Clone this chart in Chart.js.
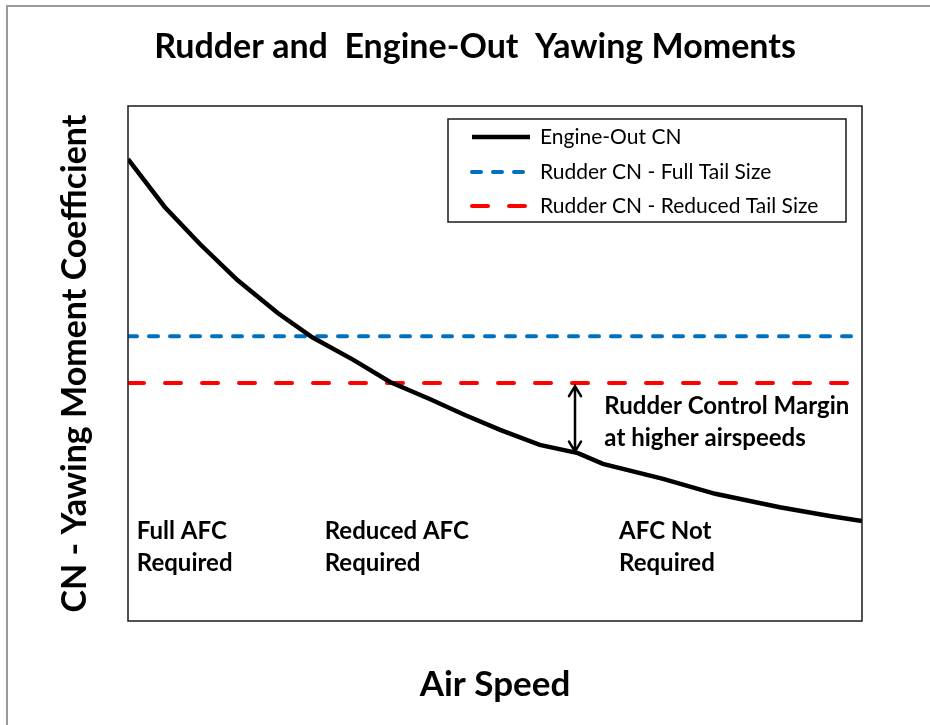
<!DOCTYPE html>
<html><head><meta charset="utf-8">
<script src="https://cdn.jsdelivr.net/npm/chart.js@4.4.1/dist/chart.umd.min.js"></script>
<style>html,body{margin:0;padding:0;background:#fff;} #wrap{width:930px;height:725px;}</style>
</head><body><div id="wrap"><canvas id="c" width="930" height="725"></canvas></div>
<script>
// ---- data ----
const airSpeed = [0, 0.5, 0.98, 1.49, 2.04, 2.51, 3.07, 3.57, 4.11, 4.59, 5.07, 5.61, 6.13, 6.47, 7.29, 8.0, 8.88, 9.56, 10];
const engineOutCN = [8.97, 8.04, 7.32, 6.62, 5.98, 5.51, 5.07, 4.64, 4.31, 4.00, 3.71, 3.42, 3.26, 3.05, 2.76, 2.47, 2.21, 2.04, 1.94];
const lineSpan = [0, 10];
const rudderFullCN = [5.53, 5.53];
const rudderReducedCN = [4.62, 4.62];
const seriesNames = ['Engine-Out CN', 'Rudder CN - Full Tail Size', 'Rudder CN - Reduced Tail Size'];
const chartTitle = 'Rudder and  Engine-Out  Yawing Moments';
const xTitle = 'Air Speed';
const yTitle = 'CN - Yawing Moment Coefficient';
const regionLabels = [['Full AFC', 'Required'], ['Reduced AFC', 'Required'], ['AFC Not', 'Required']];
const regionLabelX = [0.12, 2.68, 6.69];
const regionLabelY = [1.75, 1.13];
const marginLabel = ['Rudder Control Margin', 'at higher airspeeds'];
const marginLabelX = 6.49;
const marginLabelY = [4.16, 3.55];
const marginArrowX = 6.09;
const marginArrowTop = 4.62;
const marginArrowBottom = 3.27;

const FONT = 'Lato';

const decor = {
  id: 'decor',
  beforeDraw(chart) {
    const ctx = chart.ctx;
    ctx.save();
    ctx.fillStyle = '#9a9a9a';
    ctx.fillRect(6, 5, 924, 2);
    ctx.fillRect(6, 5, 2, 720);
    ctx.restore();
  },
  afterDatasetsDraw(chart) {
    const ctx = chart.ctx, xs = chart.scales.x, ys = chart.scales.y, a = chart.chartArea;
    ctx.save();
    // plot border
    ctx.strokeStyle = '#1a1a1a';
    ctx.lineWidth = 1.5;
    ctx.strokeRect(a.left, a.top, a.right - a.left, a.bottom - a.top);
    // region labels
    ctx.fillStyle = '#000';
    ctx.font = 'bold 24px ' + FONT;
    ctx.textBaseline = 'middle';
    ctx.textAlign = 'left';
    regionLabels.forEach((lines, i) => {
      lines.forEach((t, j) => ctx.fillText(t, xs.getPixelForValue(regionLabelX[i]), ys.getPixelForValue(regionLabelY[j])));
    });
    marginLabel.forEach((t, j) => ctx.fillText(t, xs.getPixelForValue(marginLabelX), ys.getPixelForValue(marginLabelY[j])));
    // arrow
    const ax = xs.getPixelForValue(marginArrowX);
    const y1 = ys.getPixelForValue(marginArrowTop) + 3;
    const y2 = ys.getPixelForValue(marginArrowBottom) - 1;
    ctx.strokeStyle = '#000';
    ctx.lineWidth = 2.5;
    ctx.lineCap = 'round';
    ctx.beginPath();
    ctx.moveTo(ax, y1); ctx.lineTo(ax, y2);
    ctx.moveTo(ax - 6, y1 + 10); ctx.lineTo(ax, y1); ctx.lineTo(ax + 6, y1 + 10);
    ctx.moveTo(ax - 6, y2 - 10); ctx.lineTo(ax, y2); ctx.lineTo(ax + 6, y2 - 10);
    ctx.stroke();
    // legend
    const lx = 448, ly = 119, lw = 398, lh = 103;
    ctx.fillStyle = '#fff';
    ctx.fillRect(lx, ly, lw, lh);
    ctx.strokeStyle = '#1a1a1a';
    ctx.lineWidth = 1.5;
    ctx.strokeRect(lx, ly, lw, lh);
    const rows = [137, 172, 206];
    chart.data.datasets.forEach((ds, i) => {
      ctx.save();
      ctx.strokeStyle = ds.borderColor;
      ctx.lineWidth = ds.borderWidth;
      ctx.lineCap = ds.borderCapStyle || 'butt';
      ctx.setLineDash(ds.borderDash || []);
      ctx.beginPath();
      ctx.moveTo(472, rows[i]); ctx.lineTo(530, rows[i]);
      ctx.stroke();
      ctx.restore();
      ctx.fillStyle = '#000';
      ctx.font = '21px ' + FONT;
      ctx.textBaseline = 'middle';
      ctx.fillText(ds.label, 540, rows[i]);
    });
    ctx.restore();
  }
};

const toPts = (xsArr, ysArr) => xsArr.map((x, i) => ({x, y: ysArr[i]}));

new Chart(document.getElementById('c'), {
  type: 'line',
  data: {
    datasets: [
      {label: seriesNames[0], data: toPts(airSpeed, engineOutCN), borderColor: '#000000', borderWidth: 4.5, pointRadius: 0, tension: 0, borderCapStyle: 'butt'},
      {label: seriesNames[1], data: toPts(lineSpan, rudderFullCN), borderColor: '#0070C0', borderWidth: 4, borderDash: [9, 12], borderCapStyle: 'round', pointRadius: 0},
      {label: seriesNames[2], data: toPts(lineSpan, rudderReducedCN), borderColor: '#FF0000', borderWidth: 4, borderDash: [16, 21], borderCapStyle: 'round', pointRadius: 0}
    ]
  },
  options: {
    responsive: false,
    animation: false,
    layout: {padding: {left: 20, right: 0, top: 0, bottom: 0}},
    plugins: {
      legend: {display: false},
      tooltip: {enabled: false},
      title: {display: true, text: chartTitle, color: '#000', font: {family: FONT, size: 34, weight: 'bold'}, padding: {top: 26.6, bottom: 38.6}}
    },
    scales: {
      x: {type: 'linear', min: 0, max: 10, ticks: {display: false}, grid: {display: false, drawTicks: false}, border: {display: false},
          title: {display: true, text: xTitle, color: '#000', font: {family: FONT, size: 35, weight: 'bold'}, padding: {top: 43, bottom: 19}}},
      y: {type: 'linear', min: 0, max: 10, ticks: {display: false}, grid: {display: false, drawTicks: false}, border: {display: false},
          title: {display: true, text: yTitle, color: '#000', font: {family: FONT, size: 34, weight: 'bold'}, padding: {top: 34.6, bottom: 32.6}}},
      y2: {type: 'linear', position: 'right', min: 0, max: 10, ticks: {display: false}, grid: {display: false, drawTicks: false}, border: {display: false},
          afterFit(s) { s.width = 68; }}
    }
  },
  plugins: [decor]
});
</script>
</body></html>
